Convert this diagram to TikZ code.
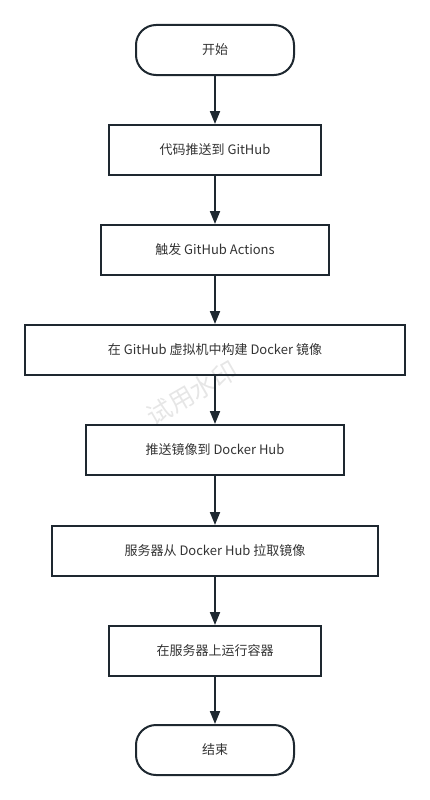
\documentclass[tikz,border=0pt]{standalone}
\usepackage{fontspec}
\setmainfont{Noto Sans CJK SC}
\usetikzlibrary{arrows.meta}
\definecolor{strokec}{HTML}{1E2830}
\definecolor{textc}{HTML}{333333}
\definecolor{wmark}{HTML}{E6E6E6}
\tikzset{
  box/.style={draw=strokec, line width=2pt, text=textc, font=\fontsize{13}{15}\selectfont, minimum height=50pt, inner sep=0pt},
  term/.style={box, rounded corners=20pt},
  conn/.style={draw=strokec, line width=2pt, -{Triangle[length=13pt,width=10pt]}},
}
\begin{document}
\begin{tikzpicture}[x=1pt,y=-1pt]
\useasboundingbox (0,0) rectangle (430,800);
\node[font=\fontsize{25}{27}\selectfont\addfontfeature{FakeBold=0}, text=wmark, rotate=30, inner sep=0pt] (wm) at (192,393) {试用水印};
\node[term, minimum width=158pt] (n1) at (215,50) {开始};
\node[box, minimum width=212pt] (n2) at (215,150) {代码推送到 GitHub};
\node[box, minimum width=228pt] (n3) at (215,250) {触发 GitHub Actions};
\node[box, minimum width=380pt] (n4) at (215,350) {在 GitHub 虚拟机中构建 Docker 镜像};
\node[box, minimum width=258pt] (n5) at (215,450) {推送镜像到 Docker Hub};
\node[box, minimum width=326pt] (n6) at (215,551) {服务器从 Docker Hub 拉取镜像};
\node[box, minimum width=212pt] (n7) at (215,651) {在服务器上运行容器};
\node[term, minimum width=158pt] (n8) at (215,750) {结束};
\draw[conn] (n1) -- (n2);
\draw[conn] (n2) -- (n3);
\draw[conn] (n3) -- (n4);
\draw[conn] (n4) -- (n5);
\draw[conn] (n5) -- (n6);
\draw[conn] (n6) -- (n7);
\draw[conn] (n7) -- (n8);
\end{tikzpicture}
\end{document}
